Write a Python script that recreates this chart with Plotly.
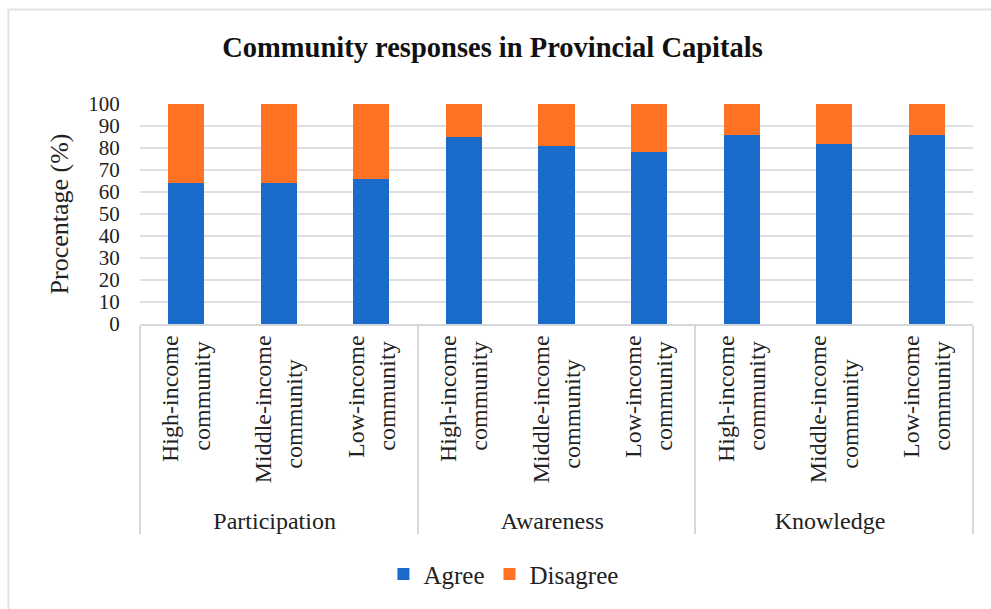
import plotly.graph_objects as go

# Survey dimensions (outer axis level) and community groups (inner level)
dimensions = ["Participation", "Awareness", "Knowledge"]
communities = [
    "High-income<br>community\u00a0",
    "Middle-income<br>community\u00a0\u00a0\u00a0\u00a0",
    "Low-income<br>community\u00a0",
]

# Share of respondents (%) per dimension, in community order
agree = [64, 64, 66, 85, 81, 78, 86, 82, 86]
disagree = [36, 36, 34, 15, 19, 22, 14, 18, 14]

y_ticks = list(range(0, 101, 10))

outer = [d for d in dimensions for _ in communities]
inner = communities * len(dimensions)

FONT = "Liberation Serif"

fig = go.Figure()
fig.add_trace(go.Bar(
    name="Agree", x=[outer, inner], y=agree,
    marker=dict(color="#1a6bca", line=dict(width=0)),
))
fig.add_trace(go.Bar(
    name="Disagree", x=[outer, inner], y=disagree,
    marker=dict(color="#ff7224", line=dict(width=0)),
))

fig.update_layout(
    width=991, height=609,
    barmode="stack", bargap=0.61,
    paper_bgcolor="white", plot_bgcolor="white",
    margin=dict(l=140, r=18, t=104, b=285),
    font=dict(family=FONT, color="#222222", size=24),
    title=dict(
        text="<b>Community responses in Provincial Capitals</b>",
        x=0.497, xref="container", xanchor="center",
        y=0.923, yref="container", yanchor="middle",
        font=dict(family=FONT, size=28.5, color="#111111"),
    ),
    legend=dict(
        orientation="h", x=0.508, xref="container", xanchor="center",
        y=0.057, yref="container", yanchor="middle",
        font=dict(family=FONT, size=25, color="#222222"),
        itemwidth=30, traceorder="normal",
    ),
    showlegend=True,
)

fig.update_yaxes(
    range=[0, 100], tickvals=y_ticks, ticktext=[str(v) for v in y_ticks],
    showgrid=True, gridcolor="#dcdfe3", gridwidth=1.5,
    zeroline=False, showline=False,
    ticks="outside", ticklen=15, tickcolor="rgba(0,0,0,0)",
    tickfont=dict(family=FONT, size=21, color="#222222"),
    title=dict(text="Procentage (%)", font=dict(family=FONT, size=26, color="#222222"), standoff=12),
)
fig.update_xaxes(
    type="multicategory",
    showline=True, linecolor="#d4d7db", linewidth=1.5,
    showdividers=True, dividercolor="#d4d7db", dividerwidth=1.5,
    tickangle=-90,
    tickfont=dict(family=FONT, size=24, color="#222222"),
    ticks="",
)

# Light frame around the whole chart
fig.add_shape(type="rect", xref="paper", yref="paper",
              x0=-0.158, x1=1.03, y0=-1.5, y1=1.43,
              line=dict(color="#dfe3e8", width=2), fillcolor="rgba(0,0,0,0)", layer="below")

fig.write_html("out.html")
